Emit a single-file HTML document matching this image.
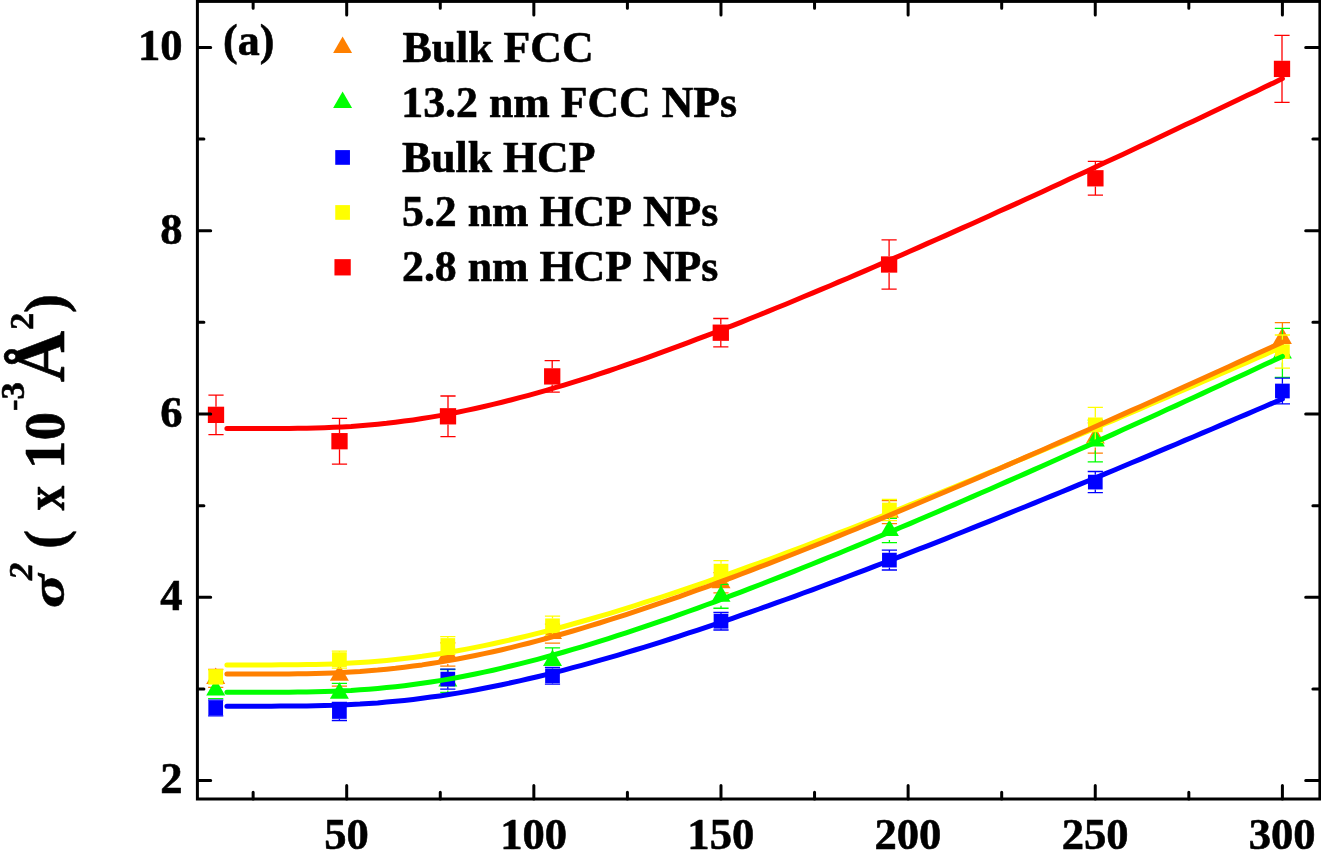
<!DOCTYPE html>
<html lang="en"><head><meta charset="utf-8"><title>Figure (a)</title>
<style>html,body{margin:0;padding:0;background:#fff}body{width:1321px;height:850px;overflow:hidden}svg{display:block;will-change:transform}text{font-family:"Liberation Serif","Times New Roman",serif;font-weight:bold;fill:#000;font-kerning:none;stroke:#000;stroke-width:0.6px;stroke-linejoin:round}</style></head><body>
<svg width="1321" height="850" viewBox="0 0 1321 850">
<rect x="0" y="0" width="1321" height="850" fill="#fff"/>
<g id="pts-orange">
<path d="M208.10 669.40h15.2M208.10 687.40h15.2M339.40 664.50V665.80M339.40 684.80V686.10M331.80 664.50h15.2M331.80 686.10h15.2M447.80 642.90V645.00M447.80 664.00V666.10M440.20 642.90h15.2M440.20 666.10h15.2M544.90 624.10h15.2M544.90 643.10h15.2M721.00 572.70V573.30M721.00 592.30V592.90M713.40 572.70h15.2M713.40 592.90h15.2M889.40 500.70V502.70M889.40 521.70V523.70M881.80 500.70h15.2M881.80 523.70h15.2M1095.30 422.80V428.50M1095.30 447.50V453.20M1087.70 422.80h15.2M1087.70 453.20h15.2M1282.40 322.60V329.10M1282.40 348.10V354.60M1274.80 322.60h15.2M1274.80 354.60h15.2" stroke="#ff8000" stroke-width="1.3" fill="none"/>
<polygon points="215.70,667.40 225.20,683.90 206.20,683.90" fill="#ff8000"/>
<polygon points="339.40,664.30 348.90,680.80 329.90,680.80" fill="#ff8000"/>
<polygon points="447.80,643.50 457.30,660.00 438.30,660.00" fill="#ff8000"/>
<polygon points="552.50,622.60 562.00,639.10 543.00,639.10" fill="#ff8000"/>
<polygon points="721.00,571.80 730.50,588.30 711.50,588.30" fill="#ff8000"/>
<polygon points="889.40,501.20 898.90,517.70 879.90,517.70" fill="#ff8000"/>
<polygon points="1095.30,427.00 1104.80,443.50 1085.80,443.50" fill="#ff8000"/>
<polygon points="1282.40,327.60 1291.90,344.10 1272.90,344.10" fill="#ff8000"/>
</g>
<g id="pts-green">
<path d="M208.10 681.10h15.2M208.10 698.70h15.2M339.40 683.40V683.80M339.40 702.80V703.20M331.80 683.40h15.2M331.80 703.20h15.2M447.80 669.50V671.40M447.80 690.40V692.30M440.20 669.50h15.2M440.20 692.30h15.2M552.50 647.90V650.90M552.50 669.90V672.90M544.90 647.90h15.2M544.90 672.90h15.2M721.00 584.35V586.80M721.00 605.80V608.25M713.40 584.35h15.2M713.40 608.25h15.2M889.40 518.30V521.00M889.40 540.00V542.70M881.80 518.30h15.2M881.80 542.70h15.2M1095.30 420.20V431.50M1095.30 450.50V461.80M1087.70 420.20h15.2M1087.70 461.80h15.2M1282.40 328.40V343.40M1282.40 362.40V377.40M1274.80 328.40h15.2M1274.80 377.40h15.2" stroke="#00ff00" stroke-width="1.3" fill="none"/>
<polygon points="215.70,678.90 225.20,695.40 206.20,695.40" fill="#00ff00"/>
<polygon points="339.40,682.30 348.90,698.80 329.90,698.80" fill="#00ff00"/>
<polygon points="447.80,669.90 457.30,686.40 438.30,686.40" fill="#00ff00"/>
<polygon points="552.50,649.40 562.00,665.90 543.00,665.90" fill="#00ff00"/>
<polygon points="721.00,585.30 730.50,601.80 711.50,601.80" fill="#00ff00"/>
<polygon points="889.40,519.50 898.90,536.00 879.90,536.00" fill="#00ff00"/>
<polygon points="1095.30,430.00 1104.80,446.50 1085.80,446.50" fill="#00ff00"/>
<polygon points="1282.40,341.90 1291.90,358.40 1272.90,358.40" fill="#00ff00"/>
</g>
<g id="pts-blue">
<path d="M215.70 700.20V700.65M215.70 715.35V715.80M208.10 700.20h15.2M208.10 715.80h15.2M339.40 702.50V704.15M339.40 718.85V720.50M331.80 702.50h15.2M331.80 720.50h15.2M447.80 669.10V671.75M447.80 686.45V689.10M440.20 669.10h15.2M440.20 689.10h15.2M552.50 667.40V668.45M552.50 683.15V684.20M544.90 667.40h15.2M544.90 684.20h15.2M721.00 612.50V613.90M721.00 628.60V630.00M713.40 612.50h15.2M713.40 630.00h15.2M889.40 550.20V552.75M889.40 567.45V570.00M881.80 550.20h15.2M881.80 570.00h15.2M1095.30 471.50V474.75M1095.30 489.45V492.70M1087.70 471.50h15.2M1087.70 492.70h15.2M1282.40 378.15V383.65M1282.40 398.35V403.85M1274.80 378.15h15.2M1274.80 403.85h15.2" stroke="#0000ff" stroke-width="1.3" fill="none"/>
<rect x="208.35" y="700.65" width="14.7" height="14.7" fill="#0000ff"/>
<rect x="332.05" y="704.15" width="14.7" height="14.7" fill="#0000ff"/>
<rect x="440.45" y="671.75" width="14.7" height="14.7" fill="#0000ff"/>
<rect x="545.15" y="668.45" width="14.7" height="14.7" fill="#0000ff"/>
<rect x="713.65" y="613.90" width="14.7" height="14.7" fill="#0000ff"/>
<rect x="882.05" y="552.75" width="14.7" height="14.7" fill="#0000ff"/>
<rect x="1087.95" y="474.75" width="14.7" height="14.7" fill="#0000ff"/>
<rect x="1275.05" y="383.65" width="14.7" height="14.7" fill="#0000ff"/>
</g>
<g id="pts-yellow">
<path d="M208.10 669.80h15.2M208.10 683.80h15.2M339.40 651.10V652.25M339.40 666.95V668.10M331.80 651.10h15.2M331.80 668.10h15.2M447.80 636.60V638.15M447.80 652.85V654.40M440.20 636.60h15.2M440.20 654.40h15.2M552.50 616.10V618.45M552.50 633.15V635.50M544.90 616.10h15.2M544.90 635.50h15.2M721.00 560.65V563.80M721.00 578.50V581.65M713.40 560.65h15.2M713.40 581.65h15.2M889.40 499.30V502.65M889.40 517.35V520.70M881.80 499.30h15.2M881.80 520.70h15.2M1095.30 407.35V417.50M1095.30 432.20V442.35M1087.70 407.35h15.2M1087.70 442.35h15.2M1282.40 335.00V344.25M1282.40 358.95V368.20M1274.80 335.00h15.2M1274.80 368.20h15.2" stroke="#ffff00" stroke-width="1.3" fill="none"/>
<rect x="208.35" y="669.45" width="14.7" height="14.7" fill="#ffff00"/>
<rect x="332.05" y="652.25" width="14.7" height="14.7" fill="#ffff00"/>
<rect x="440.45" y="638.15" width="14.7" height="14.7" fill="#ffff00"/>
<rect x="545.15" y="618.45" width="14.7" height="14.7" fill="#ffff00"/>
<rect x="713.65" y="563.80" width="14.7" height="14.7" fill="#ffff00"/>
<rect x="882.05" y="502.65" width="14.7" height="14.7" fill="#ffff00"/>
<rect x="1087.95" y="417.50" width="14.7" height="14.7" fill="#ffff00"/>
<rect x="1275.05" y="344.25" width="14.7" height="14.7" fill="#ffff00"/>
</g>
<g id="pts-red">
<path d="M216.00 395.15V406.70M216.00 423.00V434.55M208.40 395.15h15.2M208.40 434.55h15.2M339.50 418.35V433.05M339.50 449.35V464.05M331.90 418.35h15.2M331.90 464.05h15.2M448.00 396.00V408.15M448.00 424.45V436.60M440.40 396.00h15.2M440.40 436.60h15.2M552.20 360.60V368.25M552.20 384.55V392.20M544.60 360.60h15.2M544.60 392.20h15.2M720.80 318.50V324.55M720.80 340.85V346.90M713.20 318.50h15.2M713.20 346.90h15.2M889.10 239.90V256.35M889.10 272.65V289.10M881.50 239.90h15.2M881.50 289.10h15.2M1095.40 161.40V170.15M1095.40 186.45V195.20M1087.80 161.40h15.2M1087.80 195.20h15.2M1282.00 35.40V60.75M1282.00 77.05V102.40M1274.40 35.40h15.2M1274.40 102.40h15.2" stroke="#ff0000" stroke-width="1.3" fill="none"/>
<rect x="207.85" y="406.70" width="16.3" height="16.3" fill="#ff0000"/>
<rect x="331.35" y="433.05" width="16.3" height="16.3" fill="#ff0000"/>
<rect x="439.85" y="408.15" width="16.3" height="16.3" fill="#ff0000"/>
<rect x="544.05" y="368.25" width="16.3" height="16.3" fill="#ff0000"/>
<rect x="712.65" y="324.55" width="16.3" height="16.3" fill="#ff0000"/>
<rect x="880.95" y="256.35" width="16.3" height="16.3" fill="#ff0000"/>
<rect x="1087.25" y="170.15" width="16.3" height="16.3" fill="#ff0000"/>
<rect x="1273.85" y="60.75" width="16.3" height="16.3" fill="#ff0000"/>
</g>
<polyline points="226.9,706.2 235.8,706.2 244.7,706.2 253.5,706.2 262.4,706.2 271.3,706.2 280.1,706.1 289.0,706.1 297.9,706.0 306.8,705.9 315.6,705.7 324.5,705.5 333.4,705.3 342.2,704.9 351.1,704.5 360.0,704.1 368.8,703.5 377.7,702.9 386.6,702.1 395.5,701.3 404.3,700.4 413.2,699.4 422.1,698.3 430.9,697.1 439.8,695.9 448.7,694.5 457.5,693.1 466.4,691.6 475.3,690.0 484.1,688.3 493.0,686.5 501.9,684.7 510.8,682.8 519.6,680.9 528.5,678.8 537.4,676.7 546.2,674.6 555.1,672.4 564.0,670.1 572.8,667.7 581.7,665.4 590.6,662.9 599.4,660.4 608.3,657.9 617.2,655.3 626.1,652.7 634.9,650.0 643.8,647.3 652.7,644.6 661.5,641.8 670.4,639.0 679.3,636.1 688.1,633.2 697.0,630.3 705.9,627.3 714.8,624.3 723.6,621.3 732.5,618.3 741.4,615.2 750.2,612.1 759.1,609.0 768.0,605.8 776.8,602.7 785.7,599.5 794.6,596.3 803.4,593.0 812.3,589.8 821.2,586.5 830.1,583.2 838.9,579.9 847.8,576.5 856.7,573.2 865.5,569.8 874.4,566.4 883.3,563.0 892.1,559.6 901.0,556.1 909.9,552.7 918.8,549.2 927.6,545.8 936.5,542.3 945.4,538.8 954.2,535.3 963.1,531.7 972.0,528.2 980.8,524.6 989.7,521.1 998.6,517.5 1007.4,513.9 1016.3,510.3 1025.2,506.7 1034.1,503.1 1042.9,499.5 1051.8,495.9 1060.7,492.2 1069.5,488.6 1078.4,484.9 1087.3,481.2 1096.1,477.6 1105.0,473.9 1113.9,470.2 1122.7,466.5 1131.6,462.8 1140.5,459.1 1149.4,455.4 1158.2,451.6 1167.1,447.9 1176.0,444.2 1184.8,440.4 1193.7,436.7 1202.6,432.9 1211.4,429.2 1220.3,425.4 1229.2,421.6 1238.1,417.8 1246.9,414.1 1255.8,410.3 1264.7,406.5 1273.5,402.7 1282.4,398.9" fill="none" stroke="#0000ff" stroke-width="5" stroke-linecap="round" stroke-linejoin="round"/>
<polyline points="226.9,664.9 235.8,664.9 244.7,664.9 253.5,664.9 262.4,664.9 271.3,664.9 280.1,664.8 289.0,664.8 297.9,664.7 306.8,664.6 315.6,664.4 324.5,664.2 333.4,663.9 342.2,663.5 351.1,663.0 360.0,662.5 368.8,661.9 377.7,661.2 386.6,660.4 395.5,659.5 404.3,658.5 413.2,657.4 422.1,656.3 430.9,655.0 439.8,653.7 448.7,652.2 457.5,650.7 466.4,649.1 475.3,647.4 484.1,645.6 493.0,643.8 501.9,641.8 510.8,639.8 519.6,637.8 528.5,635.6 537.4,633.4 546.2,631.2 555.1,628.9 564.0,626.5 572.8,624.0 581.7,621.5 590.6,619.0 599.4,616.4 608.3,613.8 617.2,611.1 626.1,608.3 634.9,605.6 643.8,602.7 652.7,599.9 661.5,597.0 670.4,594.1 679.3,591.1 688.1,588.1 697.0,585.1 705.9,582.0 714.8,578.9 723.6,575.8 732.5,572.6 741.4,569.4 750.2,566.2 759.1,563.0 768.0,559.8 776.8,556.5 785.7,553.2 794.6,549.8 803.4,546.5 812.3,543.1 821.2,539.7 830.1,536.3 838.9,532.9 847.8,529.5 856.7,526.0 865.5,522.5 874.4,519.0 883.3,515.5 892.1,512.0 901.0,508.5 909.9,504.9 918.8,501.4 927.6,497.8 936.5,494.2 945.4,490.6 954.2,487.0 963.1,483.3 972.0,479.7 980.8,476.0 989.7,472.4 998.6,468.7 1007.4,465.0 1016.3,461.3 1025.2,457.6 1034.1,453.9 1042.9,450.2 1051.8,446.4 1060.7,442.7 1069.5,438.9 1078.4,435.2 1087.3,431.4 1096.1,427.6 1105.0,423.8 1113.9,420.1 1122.7,416.3 1131.6,412.5 1140.5,408.6 1149.4,404.8 1158.2,401.0 1167.1,397.2 1176.0,393.3 1184.8,389.5 1193.7,385.6 1202.6,381.8 1211.4,377.9 1220.3,374.0 1229.2,370.2 1238.1,366.3 1246.9,362.4 1255.8,358.5 1264.7,354.6 1273.5,350.7 1282.4,346.8" fill="none" stroke="#ffff00" stroke-width="5" stroke-linecap="round" stroke-linejoin="round"/>
<polyline points="226.9,674.1 235.8,674.1 244.7,674.1 253.5,674.1 262.4,674.0 271.3,674.0 280.1,674.0 289.0,673.9 297.9,673.8 306.8,673.7 315.6,673.5 324.5,673.2 333.4,672.9 342.2,672.5 351.1,672.0 360.0,671.5 368.8,670.8 377.7,670.1 386.6,669.2 395.5,668.3 404.3,667.2 413.2,666.1 422.1,664.9 430.9,663.5 439.8,662.1 448.7,660.6 457.5,659.0 466.4,657.3 475.3,655.5 484.1,653.6 493.0,651.7 501.9,649.7 510.8,647.6 519.6,645.4 528.5,643.2 537.4,640.8 546.2,638.5 555.1,636.0 564.0,633.5 572.8,631.0 581.7,628.4 590.6,625.7 599.4,623.0 608.3,620.2 617.2,617.4 626.1,614.6 634.9,611.7 643.8,608.7 652.7,605.7 661.5,602.7 670.4,599.6 679.3,596.6 688.1,593.4 697.0,590.2 705.9,587.1 714.8,583.8 723.6,580.6 732.5,577.3 741.4,574.0 750.2,570.6 759.1,567.2 768.0,563.8 776.8,560.4 785.7,557.0 794.6,553.5 803.4,550.0 812.3,546.5 821.2,543.0 830.1,539.4 838.9,535.9 847.8,532.3 856.7,528.7 865.5,525.0 874.4,521.4 883.3,517.8 892.1,514.1 901.0,510.4 909.9,506.7 918.8,503.0 927.6,499.2 936.5,495.5 945.4,491.7 954.2,488.0 963.1,484.2 972.0,480.4 980.8,476.6 989.7,472.8 998.6,469.0 1007.4,465.1 1016.3,461.3 1025.2,457.4 1034.1,453.5 1042.9,449.7 1051.8,445.8 1060.7,441.9 1069.5,438.0 1078.4,434.1 1087.3,430.2 1096.1,426.2 1105.0,422.3 1113.9,418.3 1122.7,414.4 1131.6,410.4 1140.5,406.5 1149.4,402.5 1158.2,398.5 1167.1,394.5 1176.0,390.5 1184.8,386.5 1193.7,382.5 1202.6,378.5 1211.4,374.5 1220.3,370.5 1229.2,366.4 1238.1,362.4 1246.9,358.4 1255.8,354.3 1264.7,350.3 1273.5,346.2 1282.4,342.2" fill="none" stroke="#ff8000" stroke-width="5" stroke-linecap="round" stroke-linejoin="round"/>
<polyline points="226.9,692.3 235.8,692.3 244.7,692.3 253.5,692.3 262.4,692.3 271.3,692.3 280.1,692.2 289.0,692.2 297.9,692.1 306.8,692.0 315.6,691.8 324.5,691.5 333.4,691.2 342.2,690.8 351.1,690.4 360.0,689.8 368.8,689.2 377.7,688.4 386.6,687.6 395.5,686.7 404.3,685.7 413.2,684.5 422.1,683.3 430.9,682.0 439.8,680.6 448.7,679.1 457.5,677.5 466.4,675.8 475.3,674.0 484.1,672.1 493.0,670.2 501.9,668.1 510.8,666.0 519.6,663.9 528.5,661.6 537.4,659.3 546.2,656.9 555.1,654.5 564.0,652.0 572.8,649.4 581.7,646.8 590.6,644.1 599.4,641.3 608.3,638.6 617.2,635.7 626.1,632.8 634.9,629.9 643.8,626.9 652.7,623.9 661.5,620.9 670.4,617.8 679.3,614.6 688.1,611.5 697.0,608.3 705.9,605.0 714.8,601.8 723.6,598.5 732.5,595.1 741.4,591.8 750.2,588.4 759.1,585.0 768.0,581.5 776.8,578.1 785.7,574.6 794.6,571.1 803.4,567.5 812.3,564.0 821.2,560.4 830.1,556.8 838.9,553.2 847.8,549.5 856.7,545.9 865.5,542.2 874.4,538.5 883.3,534.8 892.1,531.1 901.0,527.3 909.9,523.6 918.8,519.8 927.6,516.0 936.5,512.2 945.4,508.4 954.2,504.6 963.1,500.8 972.0,496.9 980.8,493.0 989.7,489.2 998.6,485.3 1007.4,481.4 1016.3,477.5 1025.2,473.6 1034.1,469.6 1042.9,465.7 1051.8,461.7 1060.7,457.8 1069.5,453.8 1078.4,449.8 1087.3,445.9 1096.1,441.9 1105.0,437.9 1113.9,433.9 1122.7,429.8 1131.6,425.8 1140.5,421.8 1149.4,417.7 1158.2,413.7 1167.1,409.6 1176.0,405.6 1184.8,401.5 1193.7,397.4 1202.6,393.4 1211.4,389.3 1220.3,385.2 1229.2,381.1 1238.1,377.0 1246.9,372.9 1255.8,368.8 1264.7,364.6 1273.5,360.5 1282.4,356.4" fill="none" stroke="#00ff00" stroke-width="5" stroke-linecap="round" stroke-linejoin="round"/>
<polyline points="226.9,428.6 235.8,428.6 244.7,428.6 253.5,428.6 262.4,428.6 271.3,428.6 280.1,428.5 289.0,428.4 297.9,428.3 306.8,428.2 315.6,428.0 324.5,427.7 333.4,427.3 342.2,426.9 351.1,426.4 360.0,425.7 368.8,425.0 377.7,424.2 386.6,423.3 395.5,422.2 404.3,421.1 413.2,419.9 422.1,418.5 430.9,417.1 439.8,415.6 448.7,413.9 457.5,412.2 466.4,410.4 475.3,408.5 484.1,406.5 493.0,404.4 501.9,402.2 510.8,400.0 519.6,397.7 528.5,395.3 537.4,392.8 546.2,390.3 555.1,387.7 564.0,385.1 572.8,382.4 581.7,379.6 590.6,376.8 599.4,373.9 608.3,371.0 617.2,368.0 626.1,364.9 634.9,361.9 643.8,358.8 652.7,355.6 661.5,352.4 670.4,349.2 679.3,345.9 688.1,342.6 697.0,339.2 705.9,335.9 714.8,332.5 723.6,329.0 732.5,325.6 741.4,322.1 750.2,318.5 759.1,315.0 768.0,311.4 776.8,307.8 785.7,304.2 794.6,300.5 803.4,296.8 812.3,293.1 821.2,289.4 830.1,285.7 838.9,281.9 847.8,278.2 856.7,274.4 865.5,270.6 874.4,266.7 883.3,262.9 892.1,259.0 901.0,255.2 909.9,251.3 918.8,247.4 927.6,243.4 936.5,239.5 945.4,235.6 954.2,231.6 963.1,227.6 972.0,223.7 980.8,219.7 989.7,215.7 998.6,211.6 1007.4,207.6 1016.3,203.6 1025.2,199.5 1034.1,195.5 1042.9,191.4 1051.8,187.3 1060.7,183.2 1069.5,179.1 1078.4,175.0 1087.3,170.9 1096.1,166.8 1105.0,162.6 1113.9,158.5 1122.7,154.4 1131.6,150.2 1140.5,146.0 1149.4,141.9 1158.2,137.7 1167.1,133.5 1176.0,129.3 1184.8,125.1 1193.7,120.9 1202.6,116.7 1211.4,112.5 1220.3,108.3 1229.2,104.1 1238.1,99.8 1246.9,95.6 1255.8,91.4 1264.7,87.1 1273.5,82.9 1282.4,78.6" fill="none" stroke="#ff0000" stroke-width="5" stroke-linecap="round" stroke-linejoin="round"/>
<rect x="197.4" y="1.4" width="1122.5" height="797.6" fill="none" stroke="#000" stroke-width="3"/>
<path d="M253.13 799.0v-6.7M253.13 1.4v6.8M346.70 799.0v-13.5M346.70 1.4v13.7M440.27 799.0v-6.7M440.27 1.4v6.8M533.84 799.0v-13.5M533.84 1.4v13.7M627.41 799.0v-6.7M627.41 1.4v6.8M720.98 799.0v-13.5M720.98 1.4v13.7M814.55 799.0v-6.7M814.55 1.4v6.8M908.12 799.0v-13.5M908.12 1.4v13.7M1001.69 799.0v-6.7M1001.69 1.4v6.8M1095.26 799.0v-13.5M1095.26 1.4v13.7M1188.83 799.0v-6.7M1188.83 1.4v6.8M1282.40 799.0v-13.5M1282.40 1.4v13.7M197.4 780.60h13.3M1319.9 780.60h-14.2M197.4 688.95h6.5M1319.9 688.95h-7.0M197.4 597.30h13.3M1319.9 597.30h-14.2M197.4 505.65h6.5M1319.9 505.65h-7.0M197.4 414.00h13.3M1319.9 414.00h-14.2M197.4 322.35h6.5M1319.9 322.35h-7.0M197.4 230.70h13.3M1319.9 230.70h-14.2M197.4 139.05h6.5M1319.9 139.05h-7.0M197.4 47.40h13.3M1319.9 47.40h-14.2" stroke="#000" stroke-width="3" stroke-linecap="round" fill="none"/>
<text x="346.5" y="848.7" font-size="44.6" text-anchor="middle">50</text>
<text x="533.6" y="848.7" font-size="44.6" text-anchor="middle">100</text>
<text x="720.8" y="848.7" font-size="44.6" text-anchor="middle">150</text>
<text x="907.9" y="848.7" font-size="44.6" text-anchor="middle">200</text>
<text x="1095.1" y="848.7" font-size="44.6" text-anchor="middle">250</text>
<text x="1282.2" y="848.7" font-size="44.6" text-anchor="middle">300</text>
<text x="182.6" y="793.4" font-size="44.6" text-anchor="end">2</text>
<text x="182.6" y="610.1" font-size="44.6" text-anchor="end">4</text>
<text x="182.6" y="426.8" font-size="44.6" text-anchor="end">6</text>
<text x="182.6" y="243.5" font-size="44.6" text-anchor="end">8</text>
<text x="182.6" y="60.2" font-size="44.6" text-anchor="end">10</text>
<text x="223" y="55" font-size="44">(a)</text>
<polygon points="342.60,36.40 352.10,52.90 333.10,52.90" fill="#ff8000"/>
<text x="402.5" y="61.8" font-size="43.8">Bulk FCC</text>
<polygon points="342.60,91.50 352.10,108.00 333.10,108.00" fill="#00ff00"/>
<text x="401.3" y="116.9" font-size="43.8">13.2 nm FCC NPs</text>
<rect x="335.25" y="150.10" width="14.7" height="14.7" fill="#0000ff"/>
<text x="402.0" y="171.8" font-size="43.8">Bulk HCP</text>
<rect x="335.25" y="205.10" width="14.7" height="14.7" fill="#ffff00"/>
<text x="402.0" y="226.4" font-size="43.8">5.2 nm HCP NPs</text>
<rect x="334.45" y="259.15" width="16.3" height="16.3" fill="#ff0000"/>
<text x="402.0" y="281.0" font-size="43.8">2.8 nm HCP NPs</text>
<g transform="translate(63.8 607) rotate(-90)">
<text transform="translate(-1 0) scale(1.1 0.87)" font-size="57" font-style="italic">σ</text>
<text x="27" y="-31.5" font-size="34.5" font-style="italic">2</text>
<text x="58" y="0" font-size="57">(</text>
<text transform="translate(96.5 0) scale(0.87 1)" font-size="57">x</text>
<text x="138" y="0" font-size="57">10</text>
<text x="196" y="-39.8" font-size="34.5">-3</text>
<text transform="translate(225 0) scale(1.06 1.085)" font-size="67">Å</text>
<text x="277" y="-30.8" font-size="34.5">2</text>
<text x="294" y="0" font-size="57">)</text>
</g>
</svg></body></html>
